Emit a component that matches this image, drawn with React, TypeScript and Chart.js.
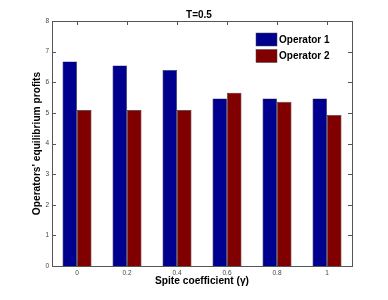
import React, { useEffect, useRef } from "react";
import { Chart, registerables } from "chart.js";

Chart.register(...registerables);

const categories = ["0", "0.2", "0.4", "0.6", "0.8", "1"];
const operator1 = [6.68, 6.55, 6.4, 5.47, 5.47, 5.47];
const operator2 = [5.09, 5.09, 5.09, 5.66, 5.36, 4.93];
const seriesNames = ["Operator 1", "Operator 2"];
const seriesColors = ["#00008F", "#800000"];
const titleText = "T=0.5";
const xTitle = "Spite coefficient (\u03b3)";
const yTitle = "Operators' equilibrium profits";

const FONT = "'Liberation Sans', Arial, Helvetica, sans-serif";

const framePlugin = {
  id: "frame",
  afterDatasetsDraw(chart: any) {
    const { ctx, chartArea: a, scales } = chart;
    ctx.save();
    ctx.strokeStyle = "#555";
    ctx.lineWidth = 1;
    ctx.strokeRect(a.left + 0.5, a.top + 0.5, a.right - a.left, a.bottom - a.top);
    const tl = 4;
    ctx.beginPath();
    scales.y.ticks.forEach((t: any) => {
      const y = Math.round(scales.y.getPixelForValue(t.value)) + 0.5;
      ctx.moveTo(a.left, y);
      ctx.lineTo(a.left + tl, y);
      ctx.moveTo(a.right, y);
      ctx.lineTo(a.right - tl, y);
    });
    categories.forEach((_c, i) => {
      const x = Math.round(scales.x.getPixelForValue(i)) + 0.5;
      ctx.moveTo(x, a.top);
      ctx.lineTo(x, a.top + tl);
      ctx.moveTo(x, a.bottom);
      ctx.lineTo(x, a.bottom - tl);
    });
    ctx.stroke();

    // title centred over the plot box
    ctx.fillStyle = "#000";
    ctx.font = "bold 10px " + FONT;
    ctx.textAlign = "center";
    ctx.textBaseline = "middle";
    ctx.fillText(titleText, (a.left + a.right) / 2 - 3, 15);

    // legend inside plot
    const lx = 256;
    const ly = 33;
    ctx.font = "bold 10px " + FONT;
    ctx.textBaseline = "middle";
    ctx.textAlign = "left";
    seriesNames.forEach((name, i) => {
      const y = ly + i * 16.5;
      ctx.fillStyle = seriesColors[i];
      ctx.fillRect(lx, y, 21, 13);
      ctx.strokeStyle = "#444";
      ctx.lineWidth = 0.5;
      ctx.strokeRect(lx, y, 21, 13);
      ctx.fillStyle = "#000";
      ctx.fillText(name, lx + 23, y + 7);
    });
    ctx.restore();
  },
};

export default function App() {
  const ref = useRef<HTMLCanvasElement>(null);
  useEffect(() => {
    if (!ref.current) return;
    const chart = new Chart(ref.current, {
      type: "bar",
      data: {
        labels: categories,
        datasets: [
          {
            label: seriesNames[0],
            data: operator1,
            backgroundColor: seriesColors[0],
            borderColor: "#333",
            borderWidth: 0.6,
          },
          {
            label: seriesNames[1],
            data: operator2,
            backgroundColor: seriesColors[1],
            borderColor: "#333",
            borderWidth: 0.6,
          },
        ],
      },
      options: {
        responsive: false,
        animation: false,
        layout: { padding: { left: 0, right: 36, top: 21, bottom: 0 } },
        datasets: { bar: { categoryPercentage: 0.58, barPercentage: 1 } },
        plugins: {
          legend: { display: false },
          tooltip: { enabled: false },
          title: { display: false },
        },
        scales: {
          x: {
            grid: { display: false, drawTicks: false },
            border: { display: false },
            ticks: {
              color: "#444",
              font: { family: FONT, size: 6.5 },
              padding: 3,
              maxRotation: 0,
            },
            title: {
              display: true,
              text: xTitle,
              color: "#000",
              font: { family: FONT, size: 10.2, weight: "bold" },
              padding: { top: 0, bottom: 12.8 },
            },
            afterFit(scale: any) {
              scale.height = 34;
            },
          },
          y: {
            min: 0,
            max: 8,
            grid: { display: false, drawTicks: false },
            border: { display: false },
            ticks: {
              stepSize: 1,
              color: "#444",
              font: { family: FONT, size: 6.5 },
              padding: 3,
            },
            title: {
              display: true,
              text: yTitle,
              color: "#000",
              font: { family: FONT, size: 10.2, weight: "bold" },
              padding: { top: 31.5, bottom: 0 },
            },
            afterFit(scale: any) {
              scale.width = 52;
            },
          },
        },
      },
      plugins: [framePlugin],
    });
    return () => chart.destroy();
  }, []);
  return (
    <div style={{ position: "fixed", left: 0, top: 0, width: 388, height: 300, background: "#fff" }}>
      <canvas ref={ref} width={388} height={300} />
    </div>
  );
}
